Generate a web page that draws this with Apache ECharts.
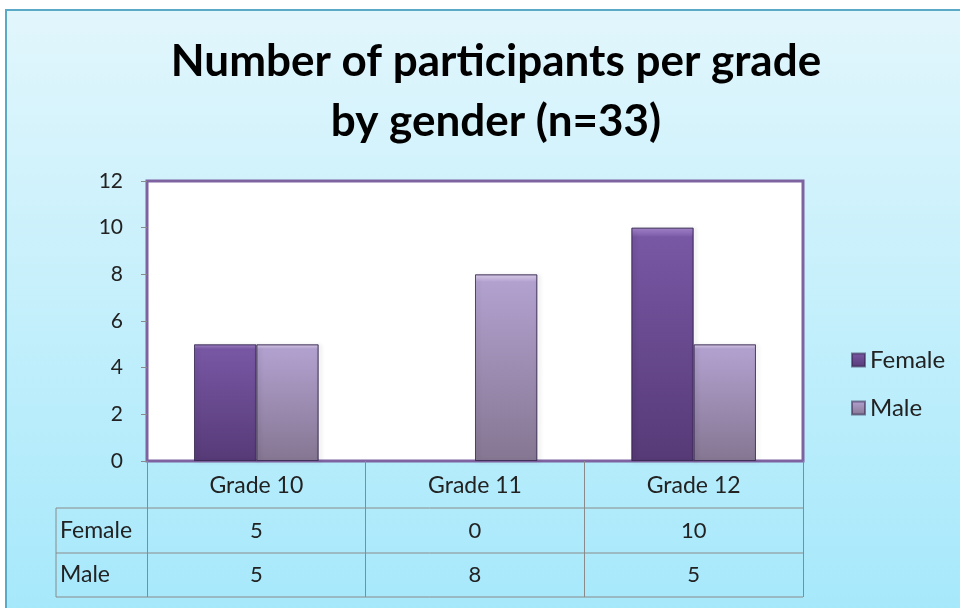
<!DOCTYPE html>
<html>
<head>
<meta charset="utf-8">
<script src="https://cdn.jsdelivr.net/npm/echarts@6/dist/echarts.min.js"></script>
<style>
  html, body { margin: 0; padding: 0; background: #fff; }
  #chart { width: 960px; height: 608px; }
</style>
</head>
<body>
<div id="chart"></div>
<script>
// data
const grades = ['Grade 10', 'Grade 11', 'Grade 12']
const female = [5, 0, 10]
const male = [5, 8, 5]
const yTicks = { min: 0, max: 12, interval: 2 }

// layout of the plot area
const plot = { left: 147, top: 181, width: 656, height: 280 }
const rowH = [47, 45, 44]   // header row, Female row, Male row
const tableLeft = 56
const font = 'Lato, "Open Sans", sans-serif'

const chart = echarts.init(document.getElementById('chart'))

function barStyle(light, top, bottom) {
  return {
    color: new echarts.graphic.LinearGradient(0, 0, 0, 1, [
      { offset: 0, color: light },
      { offset: 0.04, color: top },
      { offset: 1, color: bottom }
    ]),
    borderColor: 'rgba(50,35,75,0.55)',
    borderWidth: 1,
    shadowColor: 'rgba(0,0,0,0.3)',
    shadowBlur: 4,
    shadowOffsetX: 2,
    shadowOffsetY: 1
  }
}

// zero values get no outline, so nothing shows
function barData(arr) {
  return arr.map(v => v === 0 ? { value: v, itemStyle: { borderWidth: 0, shadowBlur: 0, shadowOffsetX: 0 } } : v)
}

// table drawn under the plot: lines and cell texts
function tableGraphics() {
  const out = []
  const bandW = plot.width / grades.length
  const y0 = plot.top + plot.height
  const y1 = y0 + rowH[0]
  const y2 = y1 + rowH[1]
  const y3 = y2 + rowH[2]
  const right = plot.left + plot.width
  const lineStyle = { stroke: '#8a8a8a', lineWidth: 1 }
  ;[y1, y2, y3].forEach(y => {
    out.push({ type: 'line', shape: { x1: tableLeft, y1: y, x2: right, y2: y }, style: lineStyle, silent: true })
  })
  out.push({ type: 'line', shape: { x1: tableLeft, y1: y1, x2: tableLeft, y2: y3 }, style: lineStyle, silent: true })
  const rows = [['Female', female, (y1 + y2) / 2], ['Male', male, (y2 + y3) / 2]]
  rows.forEach(r => {
    out.push({
      type: 'text', x: tableLeft + 4, y: r[2],
      style: { text: r[0], font: '23px ' + font, fill: '#222', verticalAlign: 'middle', align: 'left' }
    })
    r[1].forEach((v, i) => {
      out.push({
        type: 'text', x: plot.left + bandW * (i + 0.5), y: r[2],
        style: { text: String(v), font: '22px ' + font, fill: '#222', verticalAlign: 'middle', align: 'center' }
      })
    })
  })
  return out
}

const option = {
  backgroundColor: '#fff',
  textStyle: { fontFamily: font },
  title: {
    text: 'Number of participants per grade\nby gender (n=33)',
    left: 491,
    top: 27,
    textAlign: 'center',
    textStyle: { fontSize: 44, fontWeight: 'bold', color: '#000', lineHeight: 60, fontFamily: font }
  },
  legend: {
    orient: 'vertical',
    left: 846,
    top: 343,
    itemGap: 24,
    itemWidth: 13,
    itemHeight: 13,
    icon: 'rect',
    textStyle: { fontSize: 24, color: '#222' },
    data: ['Female', 'Male']
  },
  graphic: [
    {
      type: 'rect', z: -10, silent: true,
      shape: { x: 6, y: 10, width: 980, height: 620 },
      style: {
        fill: new echarts.graphic.LinearGradient(0, 0, 0, 1, [
          { offset: 0, color: '#e2f6fc' },
          { offset: 1, color: '#a4e8fb' }
        ]),
        stroke: '#5aa9c6', lineWidth: 2
      }
    }
  ].concat(tableGraphics()),
  grid: {
    left: plot.left, top: plot.top, width: plot.width, height: plot.height,
    show: true, backgroundColor: '#fff', borderColor: '#7f63a1', borderWidth: 3
  },
  xAxis: {
    type: 'category',
    data: grades,
    axisLine: { show: false },
    axisTick: { show: true, length: rowH[0] + rowH[1] + rowH[2], lineStyle: { color: '#8a8a8a' } },
    axisLabel: { fontSize: 23, color: '#222', margin: 13 }
  },
  yAxis: {
    type: 'value',
    min: yTicks.min, max: yTicks.max, interval: yTicks.interval,
    axisLine: { show: false },
    axisTick: { show: true, length: 6, lineStyle: { color: '#8a8a8a' } },
    splitLine: { show: false },
    axisLabel: { fontSize: 21, color: '#222', margin: 24 }
  },
  series: [
    {
      name: 'Female', type: 'bar', data: barData(female),
      barGap: '0%', barCategoryGap: '43%',
      itemStyle: barStyle('#a98ad2', '#7857a4', '#563a77')
    },
    {
      name: 'Male', type: 'bar', data: barData(male),
      itemStyle: barStyle('#e4d6f4', '#b2a1cf', '#857692')
    }
  ]
}

chart.setOption(option)
</script>
</body>
</html>
